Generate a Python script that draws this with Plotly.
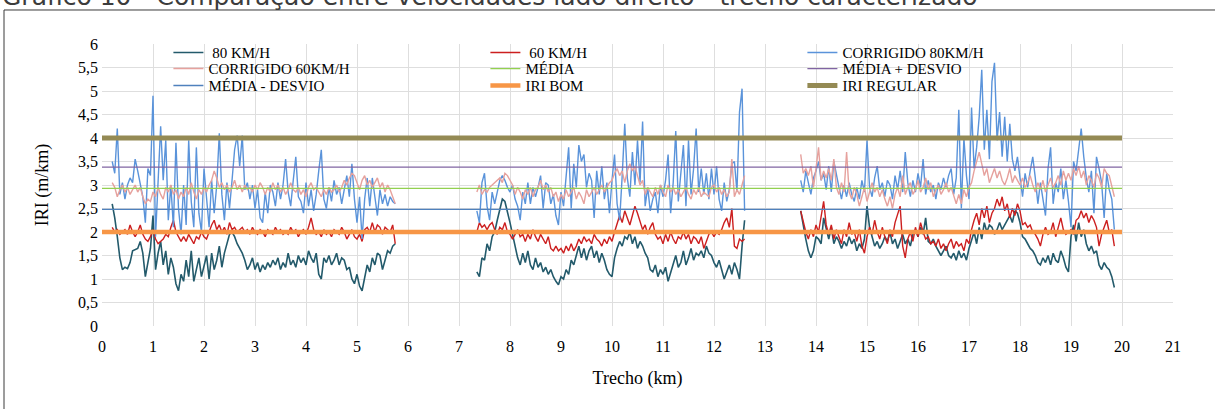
import numpy as np
import plotly.graph_objects as go

# ---------------------------------------------------------------
# IRI (m/km) ao longo do trecho, lado direito, amostras a cada 50 m
# Três segmentos levantados; entre eles não há medição.
# ---------------------------------------------------------------
STEP_KM = 0.05
SEG_START_KM = [0.20, 7.35, 13.70]

# 80 km/h
iri_80_s1 = [2.6, 2.3, 1.9, 1.45, 1.2, 1.25, 1.22, 1.35, 1.6, 1.62,
             1.65, 1.8, 1.55, 1.05, 1.4, 1.65, 2.35, 1.2, 1.55, 1.8,
             1.3, 1.6, 1.1, 1.45, 1.25, 0.9, 0.75, 1.1, 0.95, 1.4,
             1.05, 1.6, 0.95, 1.2, 1.45, 1.05, 1.3, 1.5, 1.0, 1.55,
             1.2, 1.4, 1.7, 1.25, 1.55, 1.75, 1.95, 2.0, 1.9, 1.75,
             1.65, 1.55, 1.4, 1.2, 1.3, 1.45, 1.2, 1.35, 1.15, 1.3,
             1.2, 1.35, 1.25, 1.4, 1.3, 1.45, 1.2, 1.35, 1.25, 1.55,
             1.3, 1.4, 1.25, 1.5, 1.35, 1.45, 1.3, 1.6, 1.45, 1.35,
             1.55, 1.1, 1.0, 1.45, 1.35, 1.5, 1.3, 1.4, 1.55, 1.3,
             1.45, 1.4, 1.2, 1.25, 1.0, 0.9, 1.1, 0.85, 0.75, 1.0,
             1.3, 1.15, 1.45, 1.3, 1.55, 1.5, 1.2, 1.4, 1.6, 1.55,
             1.7, 1.75]
iri_80_s2 = [1.15, 1.05, 1.45, 1.4, 1.75, 1.6, 1.9, 2.0, 2.25, 2.5,
             2.7, 2.65, 2.45, 2.2, 1.95, 1.7, 1.45, 1.3, 1.55, 1.35,
             1.6, 1.3, 1.2, 1.45, 1.25, 1.35, 1.15, 1.25, 1.1, 1.2,
             1.05, 0.95, 0.88, 1.05, 1.0, 1.2, 1.1, 1.4, 1.3, 1.5,
             1.7, 1.45, 1.65, 1.4, 1.6, 1.7, 1.45, 1.6, 1.35, 1.55,
             1.4, 1.2, 1.1, 1.05, 1.45, 1.65, 1.8, 1.7, 1.9, 1.85,
             2.0, 1.75, 1.9, 1.65, 1.8, 1.7, 1.55, 1.45, 1.2, 1.15,
             1.3, 1.05, 1.2, 1.1, 1.25, 0.95, 1.15, 1.3, 1.5, 1.25,
             1.35, 1.6, 1.3, 1.45, 1.65, 1.4, 1.55, 1.5, 1.6, 1.45,
             1.7, 1.55, 1.5, 1.35, 1.25, 1.4, 1.2, 1.0, 1.15, 1.3,
             1.1, 1.35, 1.2, 1.0, 1.7, 2.25]
iri_80_s3 = [2.45, 2.1, 1.85, 1.6, 1.45, 1.6, 1.9, 1.85, 1.75, 2.3,
             2.05, 1.85, 2.1, 1.75, 1.9, 1.8, 1.65, 1.8, 1.7, 1.9,
             1.75, 1.85, 1.6, 1.75, 1.65, 1.85, 2.55, 2.1, 1.9, 1.7,
             1.8, 1.65, 1.75, 1.9, 1.8, 2.0, 1.75, 1.85, 1.65, 1.8,
             1.95, 1.75, 1.85, 1.7, 1.95, 2.05, 1.9, 2.1, 1.95, 2.3,
             1.8, 1.75, 1.85, 1.7, 1.6, 1.5, 1.6, 1.7, 1.5, 1.45,
             1.55, 1.4, 1.6, 1.45, 1.55, 1.4, 1.65, 1.85, 2.0, 1.75,
             2.1, 1.85, 2.2, 2.0, 2.15, 2.1, 1.95, 2.05, 2.2, 2.05,
             2.15, 2.25, 2.35, 2.2, 2.45, 2.4, 2.2, 1.9, 1.85, 1.75,
             1.65, 1.6, 1.5, 1.35, 1.3, 1.45, 1.35, 1.5, 1.3, 1.55,
             1.4, 1.35, 1.6, 1.45, 1.25, 1.15, 1.9, 2.15, 1.8, 2.2,
             1.9, 2.05, 1.75, 1.6, 1.7, 1.55, 1.6, 1.3, 1.2, 1.35,
             1.25, 1.2, 1.05, 0.82]

# 60 km/h
iri_60_s1 = [2.1, 2.0, 2.05, 1.95, 2.0, 2.05, 1.95, 2.15, 2.0, 1.9,
             2.0, 2.15, 1.95, 1.85, 1.8, 1.9, 2.05, 1.85, 1.75, 1.8,
             1.85, 1.95, 1.9, 2.1, 2.25, 2.0, 1.9, 1.8, 1.9, 1.8,
             1.95, 1.85, 1.75, 1.9, 1.85, 2.0, 1.9, 1.85, 2.0, 2.15,
             2.25, 2.05, 2.15, 2.0, 2.1, 1.95, 2.2, 2.05, 2.1, 2.0,
             2.05, 2.1, 2.0, 2.05, 1.95, 2.1, 2.0, 1.95, 2.05, 2.0,
             1.9, 2.05, 2.0, 1.95, 2.1, 2.0, 2.05, 1.95, 2.0, 1.95,
             2.1, 2.0, 2.05, 1.9, 2.0, 2.05, 1.95, 2.1, 2.3, 2.05,
             1.95, 2.0, 1.9, 2.05, 1.95, 2.0, 1.9, 2.05, 2.0, 1.95,
             2.1, 2.0, 1.85, 1.95, 2.05, 1.9, 1.85, 1.95, 1.8, 2.05,
             2.1, 2.0, 2.2, 2.0, 2.15, 2.1, 1.95, 2.1, 2.05, 2.0,
             2.15, 1.75]
iri_60_s2 = [2.0, 2.2, 2.1, 2.15, 2.05, 2.15, 2.2, 2.05, 1.95, 2.1,
             2.05, 2.2, 2.0, 1.95, 1.85, 1.95, 2.05, 1.9, 1.95, 1.8,
             1.95, 1.85, 2.05, 1.9, 1.8, 1.95, 1.85, 1.75, 1.9, 1.65,
             1.6, 1.7, 1.6, 1.65, 1.55, 1.7, 1.6, 1.75, 1.6, 1.7,
             1.85, 1.75, 1.9, 1.8, 1.85, 1.75, 1.95, 1.85, 1.8, 1.7,
             1.85, 1.75, 1.9, 1.8, 2.0, 2.2, 2.35, 2.2, 2.45, 2.3,
             2.15, 2.35, 2.55, 2.4, 2.2, 2.05, 2.15, 1.95, 2.1, 2.2,
             1.95, 1.85, 1.9, 1.75, 1.95, 1.8, 2.0, 1.85, 1.75, 1.9,
             1.85, 2.0, 1.85, 1.95, 1.75, 1.9, 1.85, 1.75, 1.9, 1.65,
             1.8, 1.95, 2.0, 1.9, 2.0, 1.95, 2.05, 2.2, 2.3, 2.1,
             2.5, 1.7, 1.65, 1.85, 1.8, 1.85]
iri_60_s3 = [2.45, 2.2, 2.0, 1.85, 2.05, 1.9, 2.15, 2.0, 2.3, 2.65,
             2.15, 1.95, 2.15, 1.85, 2.05, 1.9, 1.75, 2.05, 1.9, 2.2,
             1.95, 2.0, 1.8, 2.05, 1.7, 1.55, 1.9, 2.1, 1.95, 2.25,
             2.0, 1.85, 2.1, 1.9, 1.75, 2.05, 1.9, 2.2, 2.4, 2.55,
             1.7, 1.45, 1.85, 2.0, 1.8, 2.1, 1.9, 2.2, 2.0, 1.85,
             1.9, 1.75, 1.8, 1.7, 1.85, 1.65, 1.75, 1.6, 1.75, 1.85,
             1.65, 1.8, 1.7, 1.75, 1.6, 1.85, 1.75, 2.05, 2.25, 2.4,
             2.15, 2.5, 2.3, 2.55, 2.2, 2.4, 2.5, 2.7, 2.55, 2.75,
             2.45, 2.6, 2.3, 2.5, 2.35, 2.6, 2.45, 2.15, 2.2, 2.1,
             2.15, 2.0, 1.95, 1.85, 1.7, 1.95, 2.1, 1.95, 2.0, 2.2,
             1.9, 2.1, 2.3, 2.05, 1.95, 2.0, 2.05, 1.95, 2.25, 2.3,
             2.45, 2.3, 2.4, 2.2, 2.35, 2.25, 2.1, 1.7, 1.95, 2.1,
             2.25, 2.0, 2.05, 1.7]

# Corrigido 80 km/h
iri_c80_s1 = [3.5, 3.25, 4.2, 2.8, 3.05, 2.7, 3.0, 3.15, 3.05, 3.55,
              3.3, 3.0, 2.75, 2.2, 3.35, 3.2, 4.9, 1.9, 2.95, 4.25,
              3.1, 3.95, 2.25, 3.0, 2.1, 3.9, 2.5, 1.95, 3.0, 2.15,
              3.95, 2.65, 2.1, 3.8, 2.4, 2.0, 3.35, 2.7, 2.1, 3.1,
              2.4, 3.0, 4.1, 2.8, 2.25, 3.05, 2.5, 3.1, 3.75, 4.05,
              3.4, 4.05, 2.9, 3.05, 2.7, 3.0, 2.5, 2.9, 2.3, 2.2,
              2.85, 2.4, 3.0, 2.85, 2.55, 3.05, 2.7, 3.0, 3.55, 2.85,
              2.55, 3.1, 3.6, 2.75, 2.65, 2.4, 3.05, 2.55, 2.9, 2.45,
              2.8, 3.3, 3.75, 2.7, 2.5, 2.95, 2.65, 3.1, 2.8, 2.95,
              2.6, 2.9, 3.2, 2.75, 3.45, 2.7, 2.2, 2.75, 1.85, 2.7,
              3.15, 2.55, 3.15, 2.75, 2.35, 2.9, 2.6, 2.8, 2.55, 2.75,
              2.65, 2.6]
iri_c80_s2 = [2.45, 2.2, 3.05, 3.25, 2.55, 2.25, 2.85, 2.6, 2.85, 3.1,
              3.2, 3.1, 2.95, 2.85, 3.0, 2.7, 2.55, 2.25, 2.85, 2.6,
              3.05, 2.6, 2.95, 2.75, 2.95, 3.2, 2.5, 3.05, 3.0, 2.6,
              2.8, 2.35, 2.15, 2.85, 2.55, 3.2, 3.8, 2.5, 3.45, 2.95,
              3.85, 3.5, 3.65, 2.95, 3.25, 3.1, 2.3, 3.3, 2.8, 3.4,
              2.7, 3.05, 2.4, 3.1, 3.65, 2.6, 2.25, 3.2, 4.3, 3.15,
              2.75, 3.7, 3.0, 3.95, 3.05, 4.35, 2.55, 2.95, 2.45, 2.7,
              2.85, 2.4, 3.0, 2.75, 3.1, 3.65, 2.4, 3.05, 4.15, 2.65,
              3.2, 3.85, 2.55, 3.95, 2.8, 3.35, 4.2, 2.85, 3.35, 2.8,
              3.25, 2.7, 3.35, 2.8, 3.4, 2.7, 2.45, 3.05, 2.65, 2.9,
              3.45, 3.5, 2.85, 4.55, 5.05, 2.45]
iri_c80_s3 = [3.1, 2.85, 3.3, 3.05, 2.8, 3.15, 3.3, 3.5, 3.1, 3.25,
              2.9, 3.4, 2.85, 3.5, 3.2, 2.95, 2.7, 3.0, 2.75, 3.05,
              2.8, 2.65, 2.95, 2.7, 3.1, 2.85, 3.95, 2.95, 2.75, 3.15,
              3.4, 2.9, 3.05, 2.75, 3.1, 3.0, 2.7, 3.2, 2.9, 3.3,
              2.85, 3.7, 3.05, 2.75, 3.1, 2.85, 3.25, 2.95, 3.55, 2.8,
              3.1, 2.85, 3.0, 2.7, 3.05, 2.9, 3.15, 2.95, 3.2, 3.35,
              2.8, 3.15, 4.6, 2.5, 4.0, 3.2, 2.7, 4.65, 3.35, 3.8,
              4.45, 5.45, 3.75, 4.6, 3.55, 5.2, 5.6, 3.95, 4.55, 3.6,
              4.45, 3.5, 4.3, 3.55, 3.3, 3.6, 3.15, 2.75, 3.25, 2.95,
              3.3, 3.6, 3.15, 2.6, 3.05, 2.7, 2.35, 3.35, 3.8, 2.6,
              3.05, 2.85, 3.35, 2.7, 3.1, 2.65, 2.1, 3.5, 3.3, 3.75,
              4.2, 3.6, 3.15, 2.85, 3.3, 2.4, 3.6, 3.35, 3.05, 2.3,
              3.25, 2.9, 2.7, 2.05]

# Corrigido 60 km/h
iri_c60_s1 = [3.05, 2.95, 2.75, 2.9, 3.0, 2.85, 2.95, 2.8, 2.9, 3.0,
              2.85, 2.95, 2.75, 2.6, 2.7, 2.65, 2.85, 2.75, 2.95, 2.8,
              2.7, 2.95, 2.85, 3.0, 2.8, 2.9, 2.7, 2.85, 2.75, 2.95,
              2.8, 3.05, 2.85, 2.7, 2.9, 2.8, 2.95, 2.85, 3.0, 3.1,
              3.3, 3.15, 2.95, 3.05, 2.9, 3.0, 2.85, 2.95, 3.1, 2.9,
              3.0, 2.85, 3.0, 2.9, 2.95, 2.85, 3.0, 2.9, 3.05, 2.95,
              2.8, 2.95, 2.85, 3.05, 2.9, 3.0, 2.85, 2.95, 2.8, 2.9,
              3.05, 2.9, 2.85, 2.95, 2.8, 2.9, 2.75, 2.95, 3.05, 2.9,
              2.95, 2.85, 2.75, 2.9, 2.8, 2.95, 2.85, 2.9, 3.0, 2.85,
              2.95, 3.1, 3.0, 3.15, 3.25, 3.2, 3.05, 2.9, 3.1, 3.2,
              3.0, 3.1, 2.95, 3.05, 3.15, 2.95, 3.05, 2.85, 3.0, 2.9,
              2.75, 2.6]
iri_c60_s2 = [2.85, 3.0, 2.8, 2.9, 2.85, 2.95, 3.0, 3.05, 3.1, 3.15,
              3.05, 3.25, 3.2, 3.1, 3.0, 2.8, 2.95, 2.85, 2.7, 2.9,
              2.8, 2.95, 2.75, 2.9, 2.95, 3.1, 2.9, 3.0, 2.85, 2.95,
              2.75, 2.85, 2.65, 2.8, 2.7, 2.9, 2.75, 2.85, 2.95, 2.7,
              2.85, 2.75, 2.6, 2.9, 2.75, 2.85, 2.95, 2.8, 2.9, 3.0,
              2.85, 2.95, 3.05, 3.1, 3.25, 3.35, 3.2, 3.3, 3.05, 3.3,
              3.45, 3.3, 3.4, 3.2, 3.0, 3.1, 2.8, 2.95, 2.85, 2.75,
              2.95, 2.8, 3.0, 2.85, 2.75, 3.0, 2.85, 2.95, 2.8, 2.9,
              2.75, 2.85, 2.95, 2.8, 2.7, 2.9, 2.8, 2.95, 2.75, 2.85,
              2.8, 2.75, 2.95, 3.0, 2.85, 2.95, 2.8, 2.9, 2.75, 2.85,
              3.55, 2.75, 2.9, 2.8, 3.0, 3.2]
iri_c60_s3 = [3.65, 3.25, 3.35, 3.2, 3.4, 2.95, 3.35, 3.8, 3.1, 3.3,
              3.15, 3.35, 3.1, 3.55, 2.95, 2.8, 3.05, 2.85, 3.7, 2.85,
              2.7, 2.95, 2.8, 2.55, 2.75, 2.95, 2.65, 2.85, 3.05, 2.85,
              2.95, 2.75, 2.9, 2.7, 2.55, 2.75, 2.5, 2.8, 2.95, 2.75,
              3.2, 2.8, 2.95, 3.05, 2.8, 2.9, 3.1, 2.85, 2.95, 3.15,
              2.9, 3.05, 2.75, 2.9, 3.0, 2.8, 2.9, 3.05, 2.85, 2.95,
              2.75, 2.6, 2.8, 2.6, 2.9, 2.75, 2.95, 3.05, 3.3, 3.5,
              3.7, 3.45, 3.2, 3.35, 3.05, 3.2, 3.35, 3.15, 3.3, 3.1,
              3.0, 3.15, 3.35, 3.05, 3.2, 3.1, 3.0, 3.15, 2.95, 3.05,
              3.2, 3.0, 2.85, 3.05, 2.9, 3.1, 2.85, 3.0, 3.15, 2.95,
              3.05, 3.2, 3.0, 3.3, 3.1, 3.25, 3.1, 3.35, 3.2, 3.4,
              3.15, 3.3, 3.0, 3.2, 3.1, 2.95, 3.25, 3.15, 2.95, 3.35,
              3.25, 3.2, 2.95, 2.75]

# Valores de referência (m/km)
IRI_MEDIA = 2.93
IRI_DESVIO = 0.45
IRI_BOM = 2.0
IRI_REGULAR = 4.0
REF_KM = [0, 20]


def join_segments(*segments):
    """Concatena os segmentos; um None entre eles interrompe a linha."""
    xs, ys = [], []
    for start, seg in zip(SEG_START_KM, segments):
        if xs:
            xs.append(None)
            ys.append(None)
        km = np.round(start + STEP_KM * np.arange(len(seg)), 2)
        xs.extend(km.tolist())
        ys.extend(seg)
    return xs, ys


SERIF = "Liberation Serif, Times New Roman, serif"

series = [
    (" 80 KM/H", (iri_80_s1, iri_80_s2, iri_80_s3), "#235a6b", 1.6, "legend"),
    (" 60 KM/H", (iri_60_s1, iri_60_s2, iri_60_s3), "#cc1f1f", 1.4, "legend"),
    ("CORRIGIDO 80KM/H", (iri_c80_s1, iri_c80_s2, iri_c80_s3), "#5a93da", 1.4, "legend"),
    ("CORRIGIDO 60KM/H", (iri_c60_s1, iri_c60_s2, iri_c60_s3), "#e6a19d", 1.4, "legend2"),
]

ref_lines = [
    ("MÉDIA", IRI_MEDIA, "#92d050", 1.3, "legend2"),
    ("MÉDIA + DESVIO", IRI_MEDIA + IRI_DESVIO, "#8064a2", 1.3, "legend2"),
    ("MÉDIA - DESVIO", IRI_MEDIA - IRI_DESVIO, "#4f81bd", 1.3, "legend3"),
    ("IRI BOM", IRI_BOM, "#f79646", 4.5, "legend3"),
    ("IRI REGULAR", IRI_REGULAR, "#948a54", 5, "legend3"),
]

fig = go.Figure()

for name, segs, color, width, leg in series:
    xs, ys = join_segments(*segs)
    fig.add_trace(go.Scatter(
        x=xs, y=ys, mode="lines", name=name, legend=leg,
        line=dict(color=color, width=width), connectgaps=False,
    ))

for name, value, color, width, leg in ref_lines:
    fig.add_trace(go.Scatter(
        x=REF_KM, y=[value, value], mode="lines", name=name, legend=leg,
        line=dict(color=color, width=width),
    ))

legend_common = dict(
    orientation="h", xanchor="left", yanchor="middle", x=0.062,
    entrywidth=272, entrywidthmode="pixels",
    font=dict(family=SERIF, size=15, color="#000000"),
    bgcolor="rgba(0,0,0,0)", borderwidth=0, itemwidth=30,
)

fig.update_layout(
    width=1215, height=409,
    margin=dict(l=102, r=42, t=44, b=83),
    paper_bgcolor="white", plot_bgcolor="white",
    separators=", ",
    showlegend=True,
    legend=dict(**legend_common, y=0.969),
    legend2=dict(**legend_common, y=0.912),
    legend3=dict(**legend_common, y=0.852),
    xaxis=dict(
        range=[0, 21], dtick=1, tick0=0,
        showgrid=True, gridcolor="#dedede", gridwidth=1,
        zeroline=False, showline=False, ticks="",
        ticklabelstandoff=9,
        tickfont=dict(family=SERIF, size=16, color="#000000"),
        title=dict(text="Trecho (km)", font=dict(family=SERIF, size=18, color="#000000"),
                   standoff=17),
        automargin=False,
    ),
    yaxis=dict(
        range=[0, 6], dtick=0.5, tick0=0,
        showgrid=True, gridcolor="#dedede", gridwidth=1,
        zeroline=False, showline=False, ticks="",
        ticklabelstandoff=3,
        tickfont=dict(family=SERIF, size=16, color="#000000"),
        title=dict(text="IRI (m/km)", font=dict(family=SERIF, size=18, color="#000000"),
                   standoff=24),
        automargin=False,
    ),
    shapes=[
        dict(type="rect", xref="paper", yref="paper",
             x0=-0.0915, x1=1.06, y0=-0.35, y1=1.1206,
             line=dict(color="#3a3a3a", width=1), fillcolor="rgba(0,0,0,0)",
             layer="below"),
    ],
    annotations=[
        dict(text="Gráfico 10 - Comparação entre velocidades lado direito - trecho caracterizado",
             xref="paper", yref="paper", x=-0.0952, y=1.11,
             xanchor="left", yanchor="bottom", showarrow=False,
             font=dict(family="DejaVu Sans", size=25, color="#3c3c3c")),
    ],
)

fig.write_html("out.html")
